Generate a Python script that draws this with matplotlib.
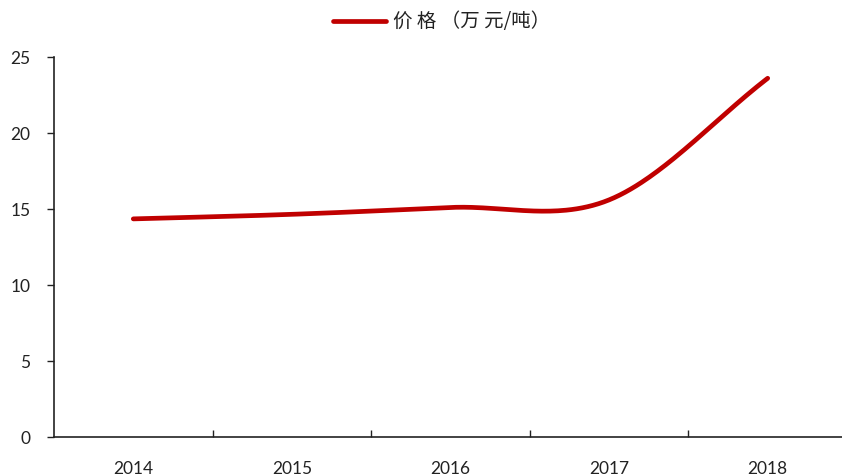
import numpy as np
import matplotlib
matplotlib.use("Agg")
import matplotlib.pyplot as plt

years = ["2014", "2015", "2016", "2017", "2018"]
price = [14.35, 14.65, 15.1, 15.6, 23.6]
y_ticks = [0, 5, 10, 15, 20, 25]
series_label = "价 格 （万 元/吨）"


def smooth_curve(xs, ys, n=60):
    """Catmull-Rom style smoothing, as used for spreadsheet 'smoothed lines'."""
    xs = np.asarray(xs, float)
    ys = np.asarray(ys, float)
    m = np.zeros_like(ys)
    m[1:-1] = (ys[2:] - ys[:-2]) / 2.0
    m[0] = ys[1] - ys[0]
    m[-1] = ys[-1] - ys[-2]
    out_x, out_y = [], []
    for i in range(len(xs) - 1):
        t = np.linspace(0, 1, n)
        h00 = 2 * t**3 - 3 * t**2 + 1
        h10 = t**3 - 2 * t**2 + t
        h01 = -2 * t**3 + 3 * t**2
        h11 = t**3 - t**2
        out_x.append(xs[i] + t * (xs[i + 1] - xs[i]))
        out_y.append(h00 * ys[i] + h10 * m[i] + h01 * ys[i + 1] + h11 * m[i + 1])
    return np.concatenate(out_x), np.concatenate(out_y)


plt.rcParams["font.family"] = ["Lato", "Noto Sans CJK SC", "DejaVu Sans"]

fig = plt.figure(figsize=(8.42, 4.75), dpi=100)
ax = fig.add_axes([54 / 842, 1 - 437 / 475, (847 - 54) / 842, (437 - 57) / 475])

x = np.arange(len(years))
sx, sy = smooth_curve(x, price)
ax.plot(sx, sy, color="#C00000", lw=3.4, solid_capstyle="round", label=series_label)

ax.set_xlim(-0.5, len(years) - 0.5)
ax.set_ylim(0, 25)
ax.set_yticks(y_ticks)
ax.set_yticklabels([str(v) for v in y_ticks], fontsize=12.5, color="#222222")

# category labels centred, tick marks between categories
ax.set_xticks(x)
ax.set_xticklabels(years, fontsize=12.5, color="#222222")
ax.tick_params(axis="x", which="major", length=0, pad=17)
ax.set_xticks(np.arange(0.5, len(years) - 0.5, 1), minor=True)
ax.tick_params(axis="x", which="minor", direction="in", length=5, width=1, color="#222222")
ax.tick_params(axis="y", direction="out", length=5, width=1, color="#222222", pad=12)

for side in ("top", "right"):
    ax.spines[side].set_visible(False)
for side in ("left", "bottom"):
    ax.spines[side].set_color("#222222")
    ax.spines[side].set_linewidth(1.2)

leg = ax.legend(loc="upper center", bbox_to_anchor=(0.5 - 9 / 793, 63 / 380 + 1.0),
                frameon=False, handlelength=2.7, handletextpad=0.35,
                prop={"family": ["Noto Sans CJK SC", "DejaVu Sans"], "size": 14})
for t in leg.get_texts():
    t.set_color("#222222")

fig.savefig("out.png", dpi=100)
